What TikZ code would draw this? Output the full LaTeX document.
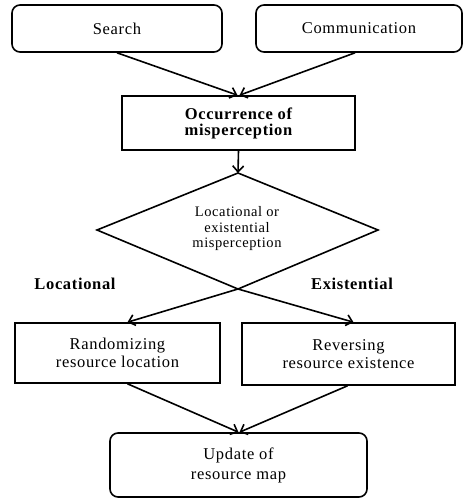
\documentclass[tikz,border=0pt]{standalone}
\usepackage{fontspec}
\setmainfont[LetterSpace=4]{Liberation Serif}
\usetikzlibrary{arrows.meta}
\begin{document}
\begin{tikzpicture}[x=1pt,y=-1pt,
  every node/.style={font=\fontsize{16.5}{19}\selectfont, align=center, inner sep=0pt},
  rbox/.style={draw, line width=1.6pt, rounded corners=8pt},
  sbox/.style={draw, line width=1.6pt},
  arr/.style={line width=1.6pt, -{Straight Barb[length=6pt,width=11pt,line width=1.6pt]}},
  lbl/.style={font=\fontsize{16.5}{19}\selectfont\bfseries}
]
\useasboundingbox (0,0) rectangle (464,499);
\node[rbox, minimum width=210pt, minimum height=47pt] (search) at (117,28.5) {Search};
\node[rbox, minimum width=206pt, minimum height=47pt] (comm) at (359,28.5) {Communication};
\node[sbox, minimum width=233pt, minimum height=54pt, font=\fontsize{16.5}{16}\selectfont\bfseries] (occ) at (238.5,123) {Occurrence of\\misperception};
\coordinate (dt) at (238,173);
\coordinate (dl) at (97,230);
\coordinate (dr) at (378,230);
\coordinate (db) at (238,289);
\draw[line width=1.6pt, line join=miter] (dt) -- (dr) -- (db) -- (dl) -- cycle;
\node[font=\fontsize{14.5}{15.5}\selectfont] (dtext) at (237,229) {Locational or\\existential\\misperception};
\node[lbl] (loc) at (75,284) {Locational};
\node[lbl] (exi) at (352,284) {Existential};
\node[sbox, minimum width=205pt, minimum height=60pt, font=\fontsize{16.5}{18}\selectfont] (rl) at (117.5,353) {Randomizing\\resource location};
\node[sbox, minimum width=213pt, minimum height=62pt, font=\fontsize{16.5}{18}\selectfont] (rr) at (348.5,354) {Reversing\\resource existence};
\node[rbox, minimum width=257pt, minimum height=64pt, font=\fontsize{16.5}{20}\selectfont] (upd) at (238.5,465) {Update of\\resource map};
\draw[arr] (search.south) -- ([xshift=-1pt]occ.north);
\draw[arr] ([xshift=-4pt]comm.south) -- ([xshift=1pt]occ.north);
\draw[arr] (occ.south) -- (dt);
\draw[arr] (db) -- ([xshift=10pt]rl.north);
\draw[arr] (db) -- ([xshift=5pt]rr.north);
\draw[arr] ([xshift=10pt]rl.south) -- (upd.north);
\draw[arr] ([xshift=-1pt]rr.south) -- ([xshift=1pt]upd.north);
\end{tikzpicture}
\end{document}
